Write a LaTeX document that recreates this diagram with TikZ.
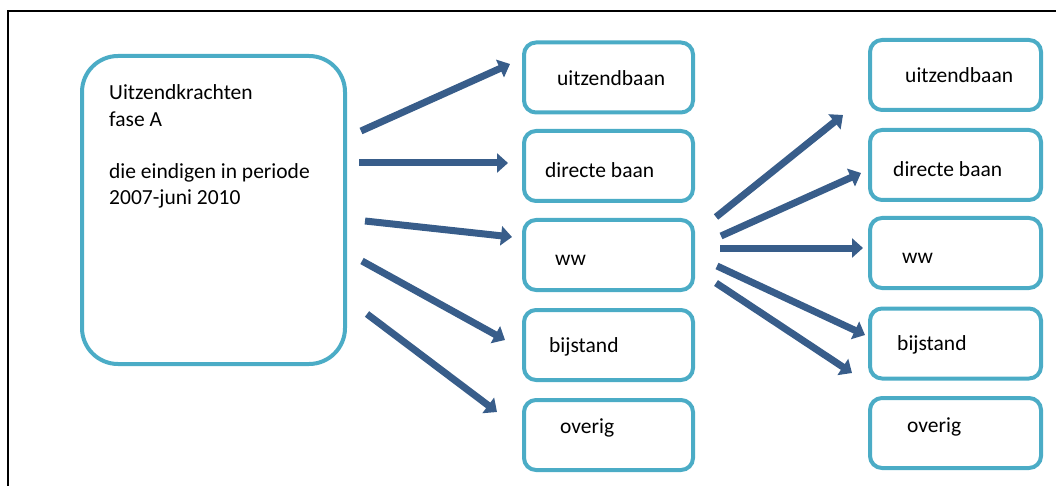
\documentclass[tikz,border=0pt]{standalone}
\usepackage{fontspec}
\setmainfont{Carlito}
\usetikzlibrary{arrows.meta}
\definecolor{boxc}{HTML}{4BACC6}
\definecolor{arrc}{HTML}{385D8A}
\tikzset{
  box/.style={draw=boxc, line width=4pt, rounded corners=12pt, inner sep=0pt,
    minimum width=169pt, minimum height=70pt},
  bigbox/.style={draw=boxc, line width=4pt, rounded corners=36pt, inner sep=0pt,
    minimum width=263pt, minimum height=308pt},
  lbl/.style={anchor=base west, inner sep=0pt, font=\fontsize{21.5}{25}\selectfont},
  flow/.style={draw=arrc, line width=7pt, -{Triangle[length=11pt,width=19pt]}},
  frame/.style={draw=black, line width=2.4pt}
}
\begin{document}
\begin{tikzpicture}[x=1pt,y=-1pt]
\useasboundingbox (0,0) rectangle (1056,486);
% table frame
\coordinate (fr) at (1056,11);
\coordinate (fc) at (8,11);
\coordinate (fb) at (8,486);
\draw[frame] (fr) -- (fc) -- (fb);

% source box
\node[bigbox] (src) at (213.5,210) {};
\node[lbl] (s1) at (109,100) {Uitzendkrachten};
\node[lbl] (s2) at (109,126.5) {fase A};
\node[lbl] (s3) at (109,179) {die eindigen in periode};
\node[lbl] (s4) at (109,205) {2007-juni 2010};

% middle column
\node[box] (m1) at (608.5,77.5) {};
\node[box] (m2) at (608.5,166) {};
\node[box] (m3) at (608.5,255) {};
\node[box] (m4) at (608.5,345) {};
\node[box] (m5) at (608.5,435) {};
\node[lbl] (mt1) at (557,86) {uitzendbaan};
\node[lbl] (mt2) at (545,178) {directe baan};
\node[lbl] (mt3) at (555,265) {ww};
\node[lbl] (mt4) at (549,352) {bijstand};
\node[lbl] (mt5) at (560,433) {overig};

% right column
\node[box, minimum width=171pt] (r1) at (955.5,75) {};
\node[box, minimum width=171pt] (r2) at (955.5,165) {};
\node[box, minimum width=171pt] (r3) at (955.5,253) {};
\node[box, minimum width=171pt] (r4) at (955.5,343.5) {};
\node[box, minimum width=171pt] (r5) at (955.5,433) {};
\node[lbl] (rt1) at (905,83) {uitzendbaan};
\node[lbl] (rt2) at (893,177) {directe baan};
\node[lbl] (rt3) at (902,263) {ww};
\node[lbl] (rt4) at (897,350) {bijstand};
\node[lbl] (rt5) at (907,432) {overig};

% arrow end points
\coordinate (la1) at (361,131);  \coordinate (lb1) at (510,64);
\coordinate (la2) at (359,163);  \coordinate (lb2) at (508,163);
\coordinate (la3) at (365,221);  \coordinate (lb3) at (512,237);
\coordinate (la4) at (362,261);  \coordinate (lb4) at (505,340);
\coordinate (la5) at (367,314);  \coordinate (lb5) at (497,412);

\coordinate (ra1) at (716,217);  \coordinate (rb1) at (843,115);
\coordinate (ra2) at (721,236);  \coordinate (rb2) at (861,173);
\coordinate (ra3) at (720,248);  \coordinate (rb3) at (863,248);
\coordinate (ra4) at (717,266);  \coordinate (rb4) at (865,335);
\coordinate (ra5) at (716,283);  \coordinate (rb5) at (852,373);

\foreach \i in {1,...,5} {
  \draw[flow] (la\i) -- (lb\i);
  \draw[flow] (ra\i) -- (rb\i);
}
\end{tikzpicture}
\end{document}
